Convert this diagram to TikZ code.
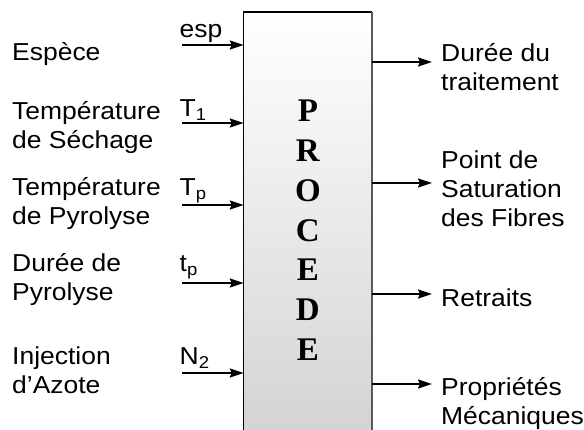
\documentclass[tikz,border=0pt]{standalone}
\usepackage{fontspec}
\setmainfont[FakeStretch=1.08]{Liberation Sans}
\newfontfamily\procfont{Liberation Serif}
\usetikzlibrary{arrows.meta}
\newcommand{\mlines}[1]{\begin{tabular}[t]{@{}l@{}}#1\end{tabular}}
\begin{document}
\begin{tikzpicture}[x=1pt,y=-1pt,
  lbl/.style={anchor=base west,inner sep=0pt,font=\fontsize{24.5}{29}\selectfont},
  sym/.style={anchor=base west,inner sep=0pt,font=\fontsize{24.5}{29}\selectfont},
  arr/.style={line width=2pt,-{Stealth[length=14pt,width=9pt,inset=2pt]}},
  letter/.style={anchor=base,inner sep=0pt,font=\procfont\bfseries\fontsize{33}{33}\selectfont},
  box/.style={inner sep=0pt,minimum width=127.7pt,minimum height=417.7pt,top color=white,bottom color=black!17}]
\useasboundingbox (0,0) rectangle (584,430);
% box
\node[box] (proc) at (307.85,221.15) {};
\draw[line width=1.2pt] (proc.south west) -- (proc.north west) -- (proc.north east);
\draw[line width=1.4pt,black!65] (proc.north east) -- (proc.south east);
% letters
\foreach \l/\k in {P/0,R/1,O/2,C/3,E/4,D/5,E/6}
  \node[letter] (let\k) at (307.85,121.7+39.8*\k) {\l};
% left labels
\node[lbl] (l1) at (12,60.7) {Espèce};
\node[lbl] (l2) at (12,120) {\mlines{Température\\de Séchage}};
\node[lbl] (l3) at (12,195.5) {\mlines{Température\\de Pyrolyse}};
\node[lbl] (l4) at (12,271.7) {\mlines{Durée de\\Pyrolyse}};
\node[lbl] (l5) at (12,365) {\mlines{Injection\\d’Azote}};
% symbols
\node[sym] (s1) at (179.5,37.3) {esp};
\node[sym] (s2) at (179.5,116.7) {T\textsubscript{1}};
\node[sym] (s3) at (179.5,195.8) {T\textsubscript{p}};
\node[sym] (s4) at (179.5,271.7) {t\textsubscript{p}};
\node[sym] (s5) at (179.5,365) {N\textsubscript{2}};
% input arrows
\foreach \i/\y in {1/45,2/123,3/205,4/283,5/373} {
  \coordinate (a\i) at (182,\y);
  \draw[arr] (a\i) -- (a\i -| proc.west);
}
% right labels
\node[lbl] (r1) at (441,61.7) {\mlines{Durée du\\traitement}};
\node[lbl] (r2) at (441,168.3) {\mlines{Point de\\Saturation\\des Fibres}};
\node[lbl] (r3) at (441,306.7) {Retraits};
\node[lbl] (r4) at (441,395.5) {\mlines{Propriétés\\Mécaniques}};
% output arrows
\foreach \i/\y in {1/62,2/183,3/294,4/384} {
  \coordinate (b\i) at (432,\y);
  \draw[arr] (b\i -| proc.east) -- (b\i);
}
\end{tikzpicture}
\end{document}
